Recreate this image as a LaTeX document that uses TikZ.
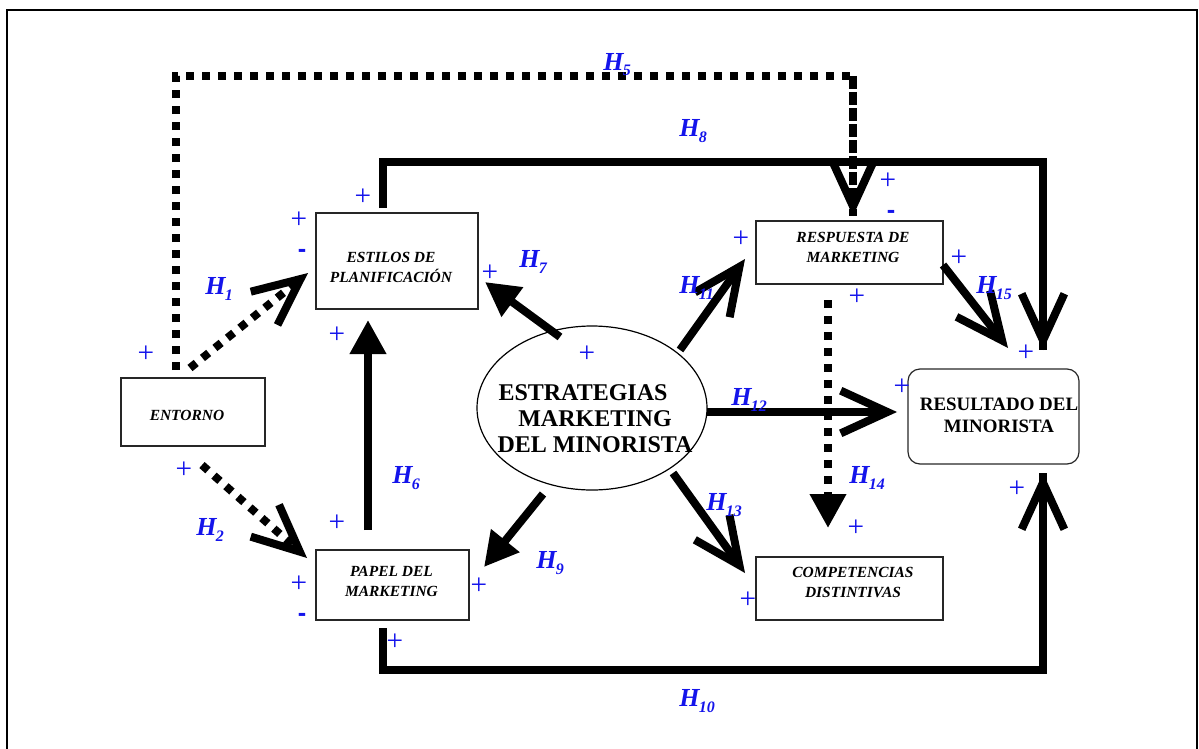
\documentclass[tikz,border=0pt]{standalone}
\usepackage{fontspec}
\setmainfont{Liberation Serif}
\newfontfamily\signfont{Liberation Sans}
\usetikzlibrary{arrows.meta,shapes.geometric}
\definecolor{hblue}{RGB}{20,20,235}

% hypothesis label: bold italic H with a lowered index
\newcommand{\hyp}[1]{{\fontsize{19.5}{19.5}\selectfont\bfseries\itshape H\kern-0.5pt\raisebox{-4.5pt}{\fontsize{12}{12}\selectfont #1}}}

\begin{document}
\begin{tikzpicture}[x=0.75pt,y=-0.75pt,
  boxnode/.style={draw=black!85,line width=0.9pt,inner sep=0pt},
  boxtext/.style={inner sep=0pt,align=center,font=\fontsize{11.6}{15}\selectfont\bfseries\itshape},
  thickline/.style={line width=6pt,line join=miter},
  dotline/.style={line width=6pt,dash pattern=on 6pt off 6pt},
  vtip/.style={-{Straight Barb[length=35pt,width=32pt,sharp]}},
  ftip/.style={-{Triangle[length=25.5pt,width=26pt]}},
  plussign/.style={text=hblue,inner sep=0pt,font=\fontsize{22}{22}\selectfont},
  minussign/.style={text=hblue,inner sep=0pt,font=\signfont\bfseries\fontsize{19}{19}\selectfont},
  hlab/.style={text=hblue,inner sep=0pt,anchor=base west}]

\useasboundingbox (0,0) rectangle (1199,749);

% outer frame (open at the bottom edge of the page)
\draw[line width=1.7pt] (7,760) -- (7,10) -- (1197,10) -- (1197,760);

% ---------- boxes ----------
\node[boxnode,minimum width=108pt,minimum height=51pt] (ent) at (193,412) {};
\node[boxtext] (entt) at (187,415) {ENTORNO};

\node[boxnode,minimum width=121.5pt,minimum height=72pt] (est) at (397,261) {};
\node[boxtext] (estt) at (391,267) {ESTILOS DE\\PLANIFICACIÓN};

\node[boxnode,minimum width=114.75pt,minimum height=52.5pt] (pap) at (392.5,585) {};
\node[boxtext] (papt) at (391.5,581.5) {PAPEL DEL\\MARKETING};

\node[boxnode,minimum width=140.25pt,minimum height=47.25pt] (res) at (849.5,252.5) {};
\node[boxtext] (rest) at (853,247) {RESPUESTA DE\\MARKETING};

\node[boxnode,minimum width=140.25pt,minimum height=47.25pt] (com) at (849.5,588.5) {};
\node[boxtext] (comt) at (853,582.5) {COMPETENCIAS\\DISTINTIVAS};

\node[boxnode,rounded corners=9pt,minimum width=128.25pt,minimum height=71.25pt] (rsl) at (993.5,416.5) {};
\node[inner sep=0pt,align=center,font=\fontsize{14.2}{16.5}\selectfont\bfseries] (rslt) at (999,415) {RESULTADO DEL\\MINORISTA};

\node[ellipse,draw,line width=0.9pt,inner sep=0pt,minimum width=172.5pt,minimum height=123pt] (strat) at (592,408) {};
\node[inner sep=0pt,align=center,font=\fontsize{18}{19.5}\selectfont\bfseries] (stratt) at (595,418.5) {ESTRATEGIAS\hspace*{18pt}\\MARKETING\\DEL MINORISTA};

% ---------- connector points ----------
\coordinate (h1a) at (190,368);  \coordinate (h1b) at (308,273);
\coordinate (h2a) at (202,465);  \coordinate (h2b) at (307,558);
\coordinate (h5a) at (176,370);  \coordinate (h5k) at (176,76);
\coordinate (h5l) at (853,76);   \coordinate (h5b) at (853,216);
\coordinate (h6a) at (368,530);  \coordinate (h6b) at (368,320);
\coordinate (h7a) at (560,337);  \coordinate (h7b) at (485,282);
\coordinate (h8a) at (383,208);  \coordinate (h8k) at (383,162);
\coordinate (h8l) at (1043,162); \coordinate (h8b) at (1043,350);
\coordinate (h9a) at (543,494);  \coordinate (h9b) at (484,567);
\coordinate (h10a) at (383,628); \coordinate (h10k) at (383,670);
\coordinate (h10l) at (1043,670);\coordinate (h10b) at (1043,473);
\coordinate (h11a) at (680,350); \coordinate (h11b) at (745,259);
\coordinate (h12a) at (707,412); \coordinate (h12b) at (897,412);
\coordinate (h13a) at (673,473); \coordinate (h13b) at (745,573);
\coordinate (h14a) at (828,300); \coordinate (h14b) at (828,528);
\coordinate (h15a) at (943,265); \coordinate (h15b) at (1008,348);

% ---------- connectors ----------
\draw[thickline] (h8a) -- (h8k) -- (h8l) -- (h8b);
\draw[thickline,vtip] (h8l) -- (h8b);
\draw[thickline] (h10a) -- (h10k) -- (h10l) -- (h10b);
\draw[thickline,vtip] (h10l) -- (h10b);
\draw[dotline,line join=miter] (h5a) -- (h5k) -- (h5l) -- (h5b);
\draw[dotline,vtip] (h5l) -- (h5b);

\draw[dotline,vtip] (h1a) -- (h1b);
\draw[dotline,vtip] (h2a) -- (h2b);
\draw[thickline,ftip] (h6a) -- (h6b);
\draw[thickline,ftip] (h7a) -- (h7b);
\draw[thickline,ftip] (h9a) -- (h9b);
\draw[thickline,vtip] (h11a) -- (h11b);
\draw[thickline,vtip] (h12a) -- (h12b);
\draw[thickline,vtip] (h13a) -- (h13b);
\draw[dotline,ftip] (h14a) -- (h14b);
\draw[thickline,vtip] (h15a) -- (h15b);

% ---------- hypothesis labels ----------
\node[hlab] (l1) at (205,294) {\hyp{1}};
\node[hlab] (l2) at (196,535) {\hyp{2}};
\node[hlab] (l5) at (603,70) {\hyp{5}};
\node[hlab] (l6) at (392,483) {\hyp{6}};
\node[hlab] (l7) at (519,267) {\hyp{7}};
\node[hlab] (l8) at (679,137) {\hyp{8}};
\node[hlab] (l9) at (536,568) {\hyp{9}};
\node[hlab] (l10) at (679,706) {\hyp{10}};
\node[hlab] (l11) at (679,293) {\hyp{11}};
\node[hlab] (l12) at (731,405) {\hyp{12}};
\node[hlab] (l13) at (706,510) {\hyp{13}};
\node[hlab] (l14) at (849,483) {\hyp{14}};
\node[hlab] (l15) at (976,293) {\hyp{15}};

% ---------- signs ----------
\foreach \px/\py [count=\i] in {363/197, 299/220, 490/273, 337/335, 146/354,
    184/470, 337/523, 299/584, 479/586, 395/642, 587/354, 888/181, 741/239,
    959/258, 857/297, 1026/353, 902/387, 1017/489, 856/528, 748/600}
  \node[plussign] (p\i) at (\px,\py) {+};
\node[minussign] (m1) at (302,253) {-};
\node[minussign] (m2) at (302,617) {-};
\node[minussign] (m3) at (891,214) {-};

\end{tikzpicture}
\end{document}
